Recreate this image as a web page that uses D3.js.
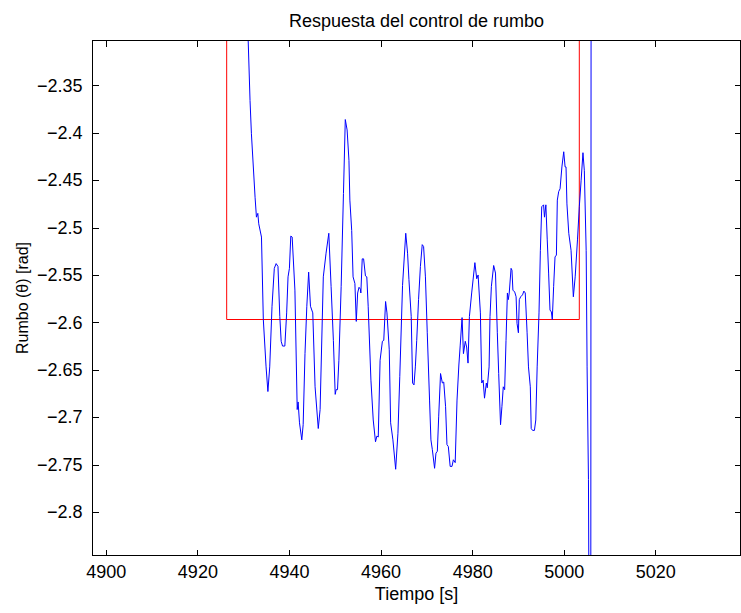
<!DOCTYPE html>
<html>
<head>
<meta charset="utf-8">
<title>Respuesta del control de rumbo</title>
<style>
body { margin: 0; background: #fff; }
svg { font-family: "Liberation Sans", Arial, sans-serif; }
.axis path, .axis line { stroke: #000; shape-rendering: crispEdges; }
.axis text { font-size: 18px; fill: #000; }
</style>
</head>
<body>
<svg width="741" height="613"></svg>
<script src="https://d3js.org/d3.v7.min.js"></script>
<script>

// heading response
var timeS = [4930.9, 4931.1, 4931.5, 4931.8, 4932.6, 4932.9, 4933.2, 4933.4, 4934.0, 4934.4,
  4935.0, 4935.4, 4935.8, 4936.3, 4936.8, 4937.2, 4937.6, 4938.0, 4938.3, 4938.6,
  4939.1, 4939.5, 4939.8, 4940.1, 4940.4, 4940.7, 4941.3, 4941.8, 4942.0, 4942.3,
  4942.8, 4943.1, 4943.5, 4943.9, 4944.3, 4944.7, 4945.2, 4945.7, 4946.4, 4946.8,
  4947.5, 4948.1, 4948.7, 4949.2, 4949.7, 4950.1, 4950.3, 4950.6, 4950.9, 4951.4,
  4951.9, 4952.3, 4952.7, 4953.1, 4953.3, 4953.7, 4954.0, 4954.4, 4954.7, 4955.0,
  4955.3, 4955.6, 4955.7, 4956.0, 4956.3, 4956.7, 4957.0, 4957.3, 4957.9, 4958.4,
  4958.9, 4959.2, 4959.5, 4959.9, 4960.4, 4960.7, 4961.1, 4961.4, 4961.9, 4962.2,
  4962.7, 4963.3, 4963.8, 4964.2, 4964.8, 4965.5, 4965.9, 4966.2, 4966.7, 4967.0,
  4967.3, 4967.6, 4967.9, 4968.3, 4968.7, 4969.1, 4969.4, 4969.8, 4970.2, 4970.7,
  4971.0, 4971.3, 4971.8, 4972.1, 4972.4, 4972.7, 4973.1, 4973.5, 4973.8, 4974.2,
  4974.5, 4974.8, 4975.2, 4975.6, 4975.9, 4976.3, 4976.7, 4977.1, 4977.4, 4977.8,
  4978.1, 4978.5, 4978.8, 4979.1, 4979.4, 4979.9, 4980.6, 4981.0, 4981.3, 4981.8,
  4982.1, 4982.4, 4982.7, 4983.1, 4983.3, 4983.7, 4983.9, 4984.2, 4984.7, 4985.1,
  4985.5, 4985.8, 4986.2, 4986.5, 4986.8, 4987.1, 4987.4, 4987.7, 4987.9, 4988.1,
  4988.5, 4988.7, 4988.9, 4989.3, 4989.6, 4989.8, 4990.1, 4990.3, 4990.6, 4991.0,
  4991.3, 4991.6, 4992.0, 4992.3, 4992.7, 4992.9, 4993.2, 4993.6, 4993.9, 4994.2,
  4994.6, 4994.9, 4995.2, 4995.6, 4995.8, 4996.1, 4996.4, 4996.7, 4997.0, 4997.3,
  4997.5, 4997.8, 4998.1, 4998.4, 4998.6, 4998.9, 4999.2, 4999.6, 5000.0, 5000.3,
  5000.5, 5000.7, 5001.1, 5001.6, 5002.1, 5002.5, 5003.0, 5003.4, 5003.8, 5004.2,
  5004.5, 5004.9, 5005.1, 5005.4, 5005.6, 5005.9, 5006.0];

var rumbo = [-2.292, -2.303, -2.366, -2.401, -2.468, -2.489, -2.485, -2.496, -2.510, -2.597,
  -2.647, -2.673, -2.647, -2.583, -2.543, -2.538, -2.541, -2.594, -2.620, -2.625,
  -2.625, -2.590, -2.552, -2.543, -2.509, -2.510, -2.566, -2.692, -2.684, -2.706,
  -2.724, -2.708, -2.633, -2.583, -2.547, -2.583, -2.590, -2.668, -2.712, -2.692,
  -2.552, -2.527, -2.506, -2.562, -2.619, -2.676, -2.671, -2.671, -2.640, -2.562,
  -2.464, -2.386, -2.397, -2.429, -2.471, -2.503, -2.552, -2.559, -2.599, -2.569,
  -2.563, -2.565, -2.569, -2.533, -2.533, -2.551, -2.552, -2.583, -2.661, -2.703,
  -2.726, -2.720, -2.721, -2.640, -2.620, -2.619, -2.578, -2.590, -2.629, -2.706,
  -2.724, -2.755, -2.717, -2.657, -2.561, -2.506, -2.527, -2.555, -2.594, -2.664,
  -2.666, -2.647, -2.619, -2.576, -2.541, -2.518, -2.520, -2.552, -2.611, -2.682,
  -2.724, -2.734, -2.754, -2.738, -2.736, -2.699, -2.654, -2.664, -2.663, -2.689,
  -2.729, -2.731, -2.752, -2.752, -2.745, -2.748, -2.682, -2.645, -2.624, -2.595,
  -2.633, -2.620, -2.626, -2.643, -2.594, -2.569, -2.537, -2.554, -2.550, -2.590,
  -2.664, -2.661, -2.680, -2.664, -2.669, -2.647, -2.594, -2.562, -2.540, -2.548,
  -2.611, -2.654, -2.708, -2.689, -2.668, -2.671, -2.619, -2.569, -2.576, -2.569,
  -2.543, -2.545, -2.566, -2.568, -2.573, -2.601, -2.611, -2.576, -2.573, -2.571,
  -2.567, -2.569, -2.611, -2.647, -2.668, -2.712, -2.714, -2.714, -2.703, -2.647,
  -2.590, -2.524, -2.478, -2.476, -2.489, -2.476, -2.513, -2.548, -2.587, -2.589,
  -2.597, -2.562, -2.531, -2.529, -2.471, -2.462, -2.459, -2.436, -2.420, -2.436,
  -2.436, -2.475, -2.506, -2.524, -2.573, -2.552, -2.513, -2.478, -2.450, -2.421,
  -2.440, -2.524, -2.647, -2.766, -3.000, -3.000, -2.000];

// reference heading (step)
var refT = [4926.4, 4926.4, 5003.4, 5003.4];
var refV = [-2.0, -2.597, -2.597, -2.0];

var xTicks = [4900, 4920, 4940, 4960, 4980, 5000, 5020];
var yTicks = [-2.35, -2.4, -2.45, -2.5, -2.55, -2.6, -2.65, -2.7, -2.75, -2.8];

var svg = d3.select("svg"),
    pLeft = 92.5, pRight = 740.5, pTop = 40.5, pBottom = 555.5;

var x = d3.scaleLinear().domain([4897.1, 5038.6]).range([pLeft, pRight]);
var y = d3.scaleLinear().domain([-2.846, -2.3026]).range([pBottom, pTop]);

svg.append("defs").append("clipPath").attr("id", "plot")
  .append("rect")
    .attr("x", pLeft).attr("y", pTop)
    .attr("width", pRight - pLeft).attr("height", pBottom - pTop);

var line = d3.line()
    .x(function(d) { return x(d[0]); })
    .y(function(d) { return y(d[1]); });

var g = svg.append("g").attr("clip-path", "url(#plot)");

g.append("path")
    .datum(d3.zip(refT, refV))
    .attr("d", line)
    .attr("fill", "none")
    .attr("stroke", "#ff0000")
    .attr("stroke-width", 1);

g.append("path")
    .datum(d3.zip(timeS, rumbo))
    .attr("d", line)
    .attr("fill", "none")
    .attr("stroke", "#0000ff")
    .attr("stroke-width", 1);

// axes, ticks pointing inward like matlab
svg.append("g").attr("class", "axis")
    .attr("transform", "translate(0," + pBottom + ")")
    .call(d3.axisBottom(x).tickValues(xTicks).tickSizeInner(-6).tickSizeOuter(0).tickPadding(10)
      .tickFormat(d3.format("d")));

svg.append("g").attr("class", "axis")
    .attr("transform", "translate(0," + pTop + ")")
    .call(d3.axisTop(x).tickValues(xTicks).tickSizeInner(-6).tickSizeOuter(0).tickFormat(""));

svg.append("g").attr("class", "axis")
    .attr("transform", "translate(" + pLeft + ",0)")
    .call(d3.axisLeft(y).tickValues(yTicks).tickSizeInner(-6).tickSizeOuter(0).tickPadding(10)
      .tickFormat(function(d) { return d3.format("")(d); }));

svg.append("g").attr("class", "axis")
    .attr("transform", "translate(" + pRight + ",0)")
    .call(d3.axisRight(y).tickValues(yTicks).tickSizeInner(-6).tickSizeOuter(0).tickFormat(""));

svg.selectAll(".axis .domain").remove();

svg.append("rect")
    .attr("x", pLeft).attr("y", pTop)
    .attr("width", pRight - pLeft).attr("height", pBottom - pTop)
    .attr("fill", "none")
    .attr("stroke", "#000")
    .attr("shape-rendering", "crispEdges");

svg.append("text")
    .attr("x", (pLeft + pRight) / 2).attr("y", 27)
    .attr("text-anchor", "middle")
    .style("font-size", "18px")
    .text("Respuesta del control de rumbo");

svg.append("text")
    .attr("x", (pLeft + pRight) / 2).attr("y", 600)
    .attr("text-anchor", "middle")
    .style("font-size", "18px")
    .text("Tiempo [s]");

svg.append("text")
    .attr("transform", "translate(28," + (pTop + pBottom) / 2 + ") rotate(-90)")
    .attr("text-anchor", "middle")
    .style("font-size", "16px")
    .text("Rumbo (θ) [rad]");

</script>
</body>
</html>
